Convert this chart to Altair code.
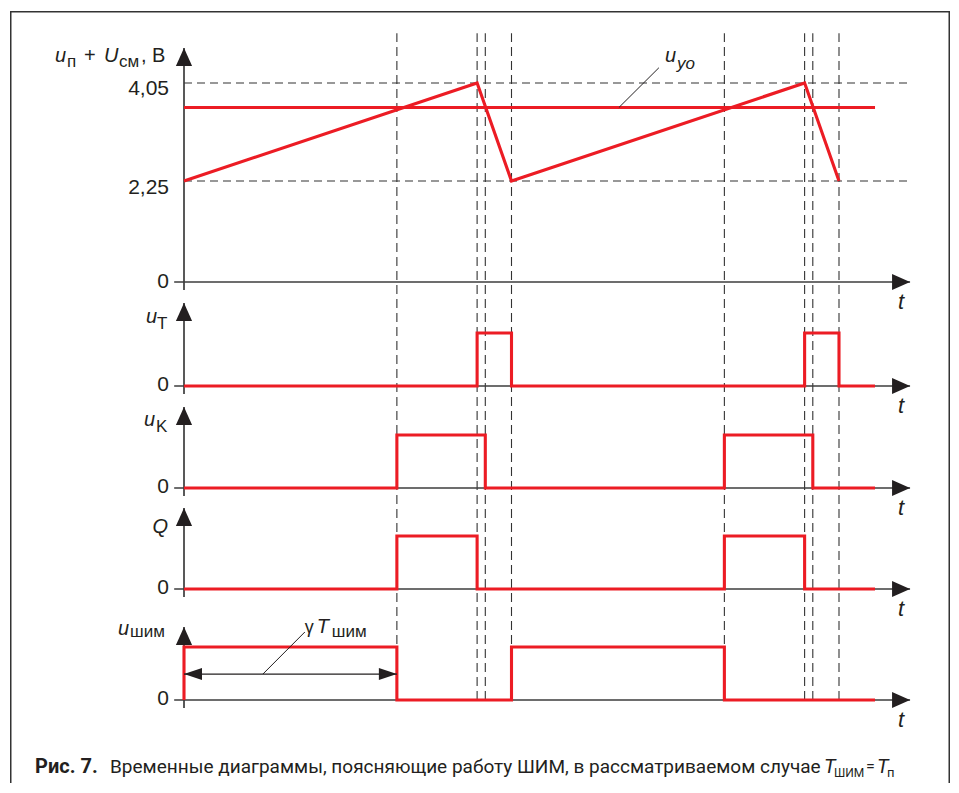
import altair as alt
import pandas as pd

RED = "#ec1c24"
DARK = "#3c3c3c"
BLACK = "#231f20"
DASH = "#333333"
FONT = "Liberation Sans"
CAPFONT = "Roboto"

# ---------------- data (time axis: one period = 100 units) ----------------
dash_t = [65, 89.5, 92, 100, 165, 189.5, 192, 200]      # vertical dashed markers
saw_t = [0, 89.5, 100, 189.5, 200]                      # u_п + U_см sawtooth
saw_v = [2.25, 4.05, 2.25, 4.05, 2.25]
uyo_level = 3.6
t_end = 211            # end of the drawn signals
t_tip = 221.7          # tip of the time-axis arrows
ref_levels = [2.25, 4.05]
p1_ticks = [0, 2.25, 4.05]
p1_tick_labels = ["0", "2,25", "4,05"]

uT_t = [0, 89.5, 89.5, 100, 100, 189.5, 189.5, 200, 200, 211]
uT_v = [0, 0, 1, 1, 0, 0, 1, 1, 0, 0]
uK_t = [0, 65, 65, 92, 92, 165, 165, 192, 192, 211]
uK_v = [0, 0, 1, 1, 0, 0, 1, 1, 0, 0]
Q_t = [0, 65, 65, 89.5, 89.5, 165, 165, 189.5, 189.5, 211]
Q_v = [0, 0, 1, 1, 0, 0, 1, 1, 0, 0]
pwm_t = [0, 0, 65, 65, 100, 100, 165, 165, 211]
pwm_v = [0, 1, 1, 0, 0, 1, 1, 0, 0]
gamma_span = [0, 65]
gamma_level = 0.49

caption_bold = "Рис. 7."
caption_text = "Временные диаграммы, поясняющие работу ШИМ, в рассматриваемом случае"

# ---------------- scales ----------------
W, H = 940, 772
xs = alt.Scale(domain=[0, 200], range=[174, 829])
ys1 = alt.Scale(domain=[0, 2.25, 4.05], range=[271, 170, 72], zero=False, nice=False)
ys2 = alt.Scale(domain=[0, 1], range=[375, 322], zero=False, nice=False)
ys3 = alt.Scale(domain=[0, 1], range=[477, 424], zero=False, nice=False)
ys4 = alt.Scale(domain=[0, 1], range=[578, 525], zero=False, nice=False)
ys5 = alt.Scale(domain=[0, 1], range=[689, 636], zero=False, nice=False)

UP = "M0,0L0.45,1L-0.45,1Z"
RIGHT = "M0,0L-1,-0.45L-1,0.45Z"
DIM_R = "M0,0L-1,-0.33L-1,0.33Z"
DIM_L = "M0,0L1,-0.33L1,0.33Z"


def X(f="t"):
    return alt.X(f"{f}:Q", scale=xs, axis=None)


def Y(f, ys):
    return alt.Y(f"{f}:Q", scale=ys, axis=None)


def sig(ts, vs, ys, color=RED, width=3.1):
    df = pd.DataFrame({"t": ts, "v": vs, "i": range(len(ts))})
    return alt.Chart(df).mark_line(color=color, strokeWidth=width, strokeJoin="miter",
                                   strokeCap="butt").encode(x=X(), y=Y("v", ys), order="i:Q")


def hrule(t0, t1, vs, ys, color=DARK, width=1.7, dash=None):
    df = pd.DataFrame({"t0": [t0] * len(vs), "t1": [t1] * len(vs), "v": vs})
    kw = dict(color=color, strokeWidth=width)
    if dash:
        kw["strokeDash"] = dash
    return alt.Chart(df).mark_rule(**kw).encode(x=X("t0"), x2="t1:Q", y=Y("v", ys))


def vrule(ts, v0, v1, ys, color=DARK, width=1.7, dash=None):
    df = pd.DataFrame({"t": ts, "v0": [v0] * len(ts), "v1": [v1] * len(ts)})
    kw = dict(color=color, strokeWidth=width)
    if dash:
        kw["strokeDash"] = dash
    return alt.Chart(df).mark_rule(**kw).encode(x=X(), y=Y("v0", ys), y2="v1:Q")


def seg(t0, v0, t1, v1, ys, color=BLACK, width=1):
    df = pd.DataFrame({"t": [t0, t1], "v": [v0, v1], "i": [0, 1]})
    return alt.Chart(df).mark_line(color=color, strokeWidth=width).encode(
        x=X(), y=Y("v", ys), order="i:Q")


def arrow(t, v, ys, path, size=1296):
    df = pd.DataFrame({"t": [t], "v": [v]})
    return alt.Chart(df).mark_point(shape=path, size=size, filled=True, color=BLACK,
                                    strokeWidth=0, opacity=1).encode(x=X(), y=Y("v", ys))


def txt(s, t, v, ys, dx=0, dy=0, size=20, italic=False, bold=False, align="left",
        baseline="alphabetic", font=FONT):
    df = pd.DataFrame({"t": [t], "v": [v], "s": [s]})
    return alt.Chart(df).mark_text(dx=dx, dy=dy, fontSize=size, font=font,
                                   fontStyle="italic" if italic else "normal",
                                   fontWeight="bold" if bold else "normal",
                                   align=align, baseline=baseline, color=BLACK).encode(
        x=X(), y=Y("v", ys), text="s:N")


def axes(ys, bottom, tip):
    return [
        hrule(-3, t_tip, [0], ys),
        vrule([0], bottom, tip, ys),
        arrow(0, tip, ys, UP),
        arrow(t_tip, 0, ys, RIGHT),
        txt("t", t_tip, 0, ys, dx=-9, dy=27, size=22, italic=True, align="center"),
    ]


# ---------------- panel 1 ----------------
tip1 = 4.693
p1_layers = [
    hrule(0, 221, ref_levels, ys1, color=DASH, width=1.1, dash=[8, 5]),
] + axes(ys1, -0.178, tip1) + [
    sig(saw_t, saw_v, ys1),
    hrule(0, t_end, [uyo_level], ys1, color=RED, width=3.1),
    seg(132.8, uyo_level, 145, 4.33, ys1),
    txt("u", 145, 4.33, ys1, dx=6, dy=-6, size=20, italic=True),
    txt("yo", 145, 4.33, ys1, dx=18, dy=1, size=17, italic=True),
    txt("0", 0, 0, ys1, dx=-15, dy=0, size=21, align="right", baseline="middle"),
    txt("2,25", 0, 2.25, ys1, dx=-15, dy=7, size=21, align="right", baseline="middle"),
    txt("4,05", 0, 4.05, ys1, dx=-15, dy=6, size=21, align="right", baseline="middle"),
    txt("u", 0, tip1, ys1, dx=-129, dy=14, size=20, italic=True),
    txt("п", 0, tip1, ys1, dx=-117, dy=19, size=17),
    txt("+", 0, tip1, ys1, dx=-100, dy=14, size=20),
    txt("U", 0, tip1, ys1, dx=-80, dy=14, size=20, italic=True),
    txt("см", 0, tip1, ys1, dx=-65, dy=19, size=17),
    txt(", В", 0, tip1, ys1, dx=-43, dy=14, size=20),
]
p1 = alt.layer(*p1_layers)

# ---------------- panel 2: u_T ----------------
tip2 = 1.566
p2 = alt.layer(*(axes(ys2, -0.15, tip2) + [
    sig(uT_t, uT_v, ys2),
    txt("0", 0, 0, ys2, dx=-15, dy=-1, size=21, align="right", baseline="middle"),
    txt("u", 0, tip2, ys2, dx=-38, dy=20, size=20, italic=True),
    txt("T", 0, tip2, ys2, dx=-27, dy=26, size=17),
]))

# ---------------- panel 3: u_K ----------------
tip3 = 1.528
p3 = alt.layer(*(axes(ys3, -0.15, tip3) + [
    sig(uK_t, uK_v, ys3),
    txt("0", 0, 0, ys3, dx=-15, dy=-1, size=21, align="right", baseline="middle"),
    txt("u", 0, tip3, ys3, dx=-40, dy=19, size=20, italic=True),
    txt("K", 0, tip3, ys3, dx=-28, dy=25, size=17),
]))

# ---------------- panel 4: Q ----------------
tip4 = 1.528
p4 = alt.layer(*(axes(ys4, -0.15, tip4) + [
    sig(Q_t, Q_v, ys4),
    txt("0", 0, 0, ys4, dx=-15, dy=-1, size=21, align="right", baseline="middle"),
    txt("Q", 0, tip4, ys4, dx=-16, dy=25, size=20, italic=True, align="right"),
]))

# ---------------- panel 5: u_шим (with dashed markers spanning all panels) ----------------
tip5 = 1.377
p5 = alt.layer(*([
    vrule(dash_t, 0, 12.58, ys5, color=DASH, width=1.1, dash=[9, 5]),
] + axes(ys5, -0.15, tip5) + [
    sig(pwm_t, pwm_v, ys5),
    hrule(gamma_span[0], gamma_span[1], [gamma_level], ys5, color=BLACK, width=1.2),
    arrow(gamma_span[0], gamma_level, ys5, DIM_L),
    arrow(gamma_span[1], gamma_level, ys5, DIM_R),
    seg(24.1, gamma_level, 36.9, 1.283, ys5),
    txt("γ", 36.9, 1.283, ys5, dx=0, dy=1, size=18),
    txt("T", 36.9, 1.283, ys5, dx=12, dy=1, size=20, italic=True),
    txt("шим", 36.9, 1.283, ys5, dx=27, dy=5, size=17),
    txt("0", 0, 0, ys5, dx=-15, dy=-1, size=21, align="right", baseline="middle"),
    txt("u", 0, tip5, ys5, dx=-66, dy=8, size=20, italic=True),
    txt("шим", 0, tip5, ys5, dx=-54, dy=10, size=17),
]))

# ---------------- frame and caption ----------------
one = pd.DataFrame({"a": [0]})
frame = [
    alt.Chart(one).mark_rule(color="#333333", strokeWidth=1.5).encode(
        x=alt.value(0.75), y=alt.value(0), y2=alt.value(H)),
    alt.Chart(one).mark_rule(color="#333333", strokeWidth=1.5).encode(
        x=alt.value(W - 0.75), y=alt.value(0), y2=alt.value(H)),
    alt.Chart(one).mark_rule(color="#333333", strokeWidth=1.5).encode(
        x=alt.value(0), x2=alt.value(W), y=alt.value(0.75)),
]


def cap(s, x, y, size=20, italic=False, bold=False):
    return alt.Chart(one).mark_text(fontSize=size, font=CAPFONT, align="left",
                                    baseline="alphabetic", color=BLACK,
                                    fontStyle="italic" if italic else "normal",
                                    fontWeight="bold" if bold else "normal").encode(
        x=alt.value(x), y=alt.value(y), text=alt.value(s))


captions = [
    cap(caption_bold, 25, 762, size=20, bold=True),
    cap(caption_text, 100, 762, size=19),
    cap("T", 814, 762, size=20, italic=True),
    cap("ШИМ", 824, 766, size=12),
    cap("=", 856, 761, size=16),
    cap("T", 867, 762, size=20, italic=True),
    cap("п", 877, 766, size=13),
]

chart = alt.layer(p5, p4, p3, p2, p1, *frame, *captions).resolve_scale(
    y="independent"
).properties(
    width=W, height=H,
    autosize=alt.AutoSizeParams(type="none"),
    padding={"left": 2, "top": 3, "right": 0, "bottom": 0},
).configure_view(stroke=None)

chart.save("out.html", embed_options={"renderer": "svg", "actions": False})
